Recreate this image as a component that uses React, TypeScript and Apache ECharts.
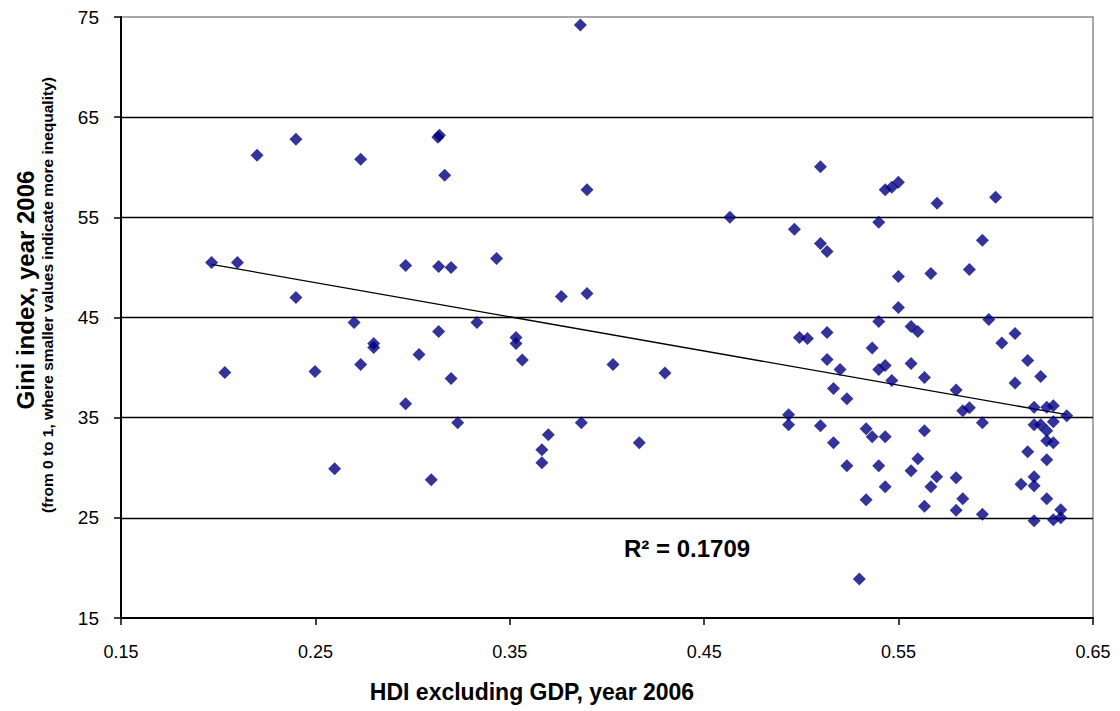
import React, { useEffect, useRef } from "react";
import * as echarts from "echarts";

// HDI excluding GDP (x) and Gini index (y)
const hdi: number[] = [
  0.1966, 0.2099, 0.2034, 0.22, 0.24, 0.24, 0.2498, 0.2599, 0.2699, 0.2733,
  0.2733, 0.28, 0.28, 0.2964, 0.2964, 0.3033, 0.3096, 0.313, 0.3138, 0.3134,
  0.3134, 0.3165, 0.3198, 0.3198, 0.3232, 0.3331, 0.3432, 0.3532, 0.3532, 0.3564,
  0.3665, 0.3665, 0.3698, 0.3765, 0.3863, 0.3868, 0.3897, 0.3897, 0.4031, 0.4166,
  0.4298, 0.4632,
  0.4934, 0.4934, 0.4964, 0.499, 0.5031, 0.5098, 0.5098, 0.5098, 0.5132, 0.5132,
  0.5132, 0.5165, 0.5165, 0.5199, 0.5234, 0.5234, 0.5298, 0.5333, 0.5333, 0.5364,
  0.5364, 0.5398, 0.5398, 0.5398, 0.5398, 0.5431, 0.5431, 0.5431, 0.5431, 0.5465,
  0.5465, 0.5499, 0.5499, 0.5499, 0.5564, 0.5564, 0.5564, 0.5599, 0.5599, 0.5633,
  0.5633, 0.5633, 0.5666, 0.5666, 0.5698, 0.5696, 0.5796, 0.5796, 0.5796, 0.583,
  0.583, 0.5864, 0.5864, 0.5931, 0.5931, 0.5931, 0.5964, 0.5999, 0.6031, 0.6099,
  0.6099, 0.613, 0.6164, 0.6164, 0.6197, 0.6197, 0.6197, 0.6197, 0.6197, 0.6231,
  0.6231, 0.6262, 0.6262, 0.6262, 0.6262, 0.6262, 0.6296, 0.6296, 0.6296, 0.6296,
  0.6334, 0.6334, 0.6365,
];
const gini: number[] = [
  50.5, 50.5, 39.5, 61.2, 62.8, 47.0, 39.6, 29.9, 44.5, 60.8,
  40.3, 42.4, 42.0, 50.2, 36.4, 41.3, 28.8, 63.0, 63.2, 50.1,
  43.6, 59.2, 50.0, 38.9, 34.5, 44.5, 50.9, 43.0, 42.4, 40.75,
  31.8, 30.5, 33.3, 47.1, 74.2, 34.5, 57.75, 47.4, 40.3, 32.5,
  39.45, 55.0,
  35.3, 34.3, 53.8, 43.0, 42.9, 60.05, 52.4, 34.2, 51.6, 43.5,
  40.8, 37.9, 32.5, 39.8, 36.9, 30.2, 18.9, 33.9, 26.8, 41.95,
  33.1, 54.5, 44.6, 39.8, 30.2, 57.75, 40.2, 33.1, 28.1, 58.0,
  38.7, 58.5, 49.1, 46.0, 44.1, 40.4, 29.7, 43.6, 30.9, 39.0,
  33.7, 26.15, 49.4, 28.1, 56.4, 29.1, 37.75, 29.0, 25.75, 35.7,
  26.9, 49.8, 36.0, 52.7, 34.5, 25.35, 44.8, 57.0, 42.45, 43.4,
  38.45, 28.35, 40.7, 31.6, 36.05, 34.3, 29.1, 28.2, 24.7, 39.1,
  34.3, 36.05, 33.7, 32.7, 30.8, 26.9, 36.2, 34.6, 32.5, 24.8,
  25.8, 25.0, 35.2,
];

// Linear trend line endpoints
const trendX: number[] = [0.1966, 0.6365];
const trendY: number[] = [50.3, 35.3];

// Axis ranges
const xMin = 0.15;
const xMax = 0.65;
const xStep = 0.1;
const yMin = 15;
const yMax = 75;
const yStep = 10;

const rSquaredLabel = "R\u00B2 = 0.1709";
const xTitle = "HDI excluding GDP, year 2006";
const yTitle = "Gini index, year 2006";
const ySubtitle = "(from 0 to 1, where smaller values indicate more inequality)";

const FONT = "'Liberation Sans', Arial, Helvetica, sans-serif";
const NARROW = "'Liberation Sans Narrow', 'Arial Narrow', 'Liberation Sans', Arial, sans-serif";

export default function App() {
  const ref = useRef<HTMLDivElement>(null);

  useEffect(() => {
    if (!ref.current) return;
    const chart = echarts.init(ref.current, undefined, { renderer: "svg" });

    const points = hdi.map((x, i) => [x - xMin, gini[i] - yMin]);
    const trend = trendX.map((x, i) => [x - xMin, trendY[i] - yMin]);

    chart.setOption({
      animation: false,
      backgroundColor: "#ffffff",
      grid: {
        left: 121,
        top: 17,
        width: 972,
        height: 601,
        show: true,
        borderColor: "#8c8c8c",
        borderWidth: 1.5,
        backgroundColor: "transparent",
      },
      xAxis: {
        type: "value",
        min: 0,
        max: xMax - xMin,
        interval: xStep,
        axisLine: { show: true, onZero: false, lineStyle: { color: "#000", width: 2 } },
        axisTick: { show: true, inside: false, length: 7, lineStyle: { color: "#000", width: 1.5 } },
        splitLine: { show: false },
        axisLabel: {
          color: "#000",
          fontSize: 18,
          fontFamily: FONT,
          margin: 25,
          formatter: (v: number) => (v + xMin).toFixed(2),
        },
      },
      yAxis: {
        type: "value",
        min: 0,
        max: yMax - yMin,
        interval: yStep,
        axisLine: { show: true, onZero: false, lineStyle: { color: "#000", width: 2 } },
        axisTick: { show: true, inside: false, length: 7, lineStyle: { color: "#000", width: 1.5 } },
        splitLine: {
          show: true,
          showMinLine: false,
          showMaxLine: false,
          lineStyle: { color: "#000", width: 1.4 },
        },
        axisLabel: {
          color: "#000",
          fontSize: 19,
          fontFamily: FONT,
          margin: 22,
          formatter: (v: number) => String(Math.round(v + yMin)),
        },
      },
      series: [
        {
          type: "line",
          data: trend,
          showSymbol: false,
          symbol: "none",
          lineStyle: { color: "#000", width: 1.3 },
          z: 3,
          silent: true,
        },
        {
          type: "scatter",
          data: points,
          symbol: "diamond",
          symbolSize: 13,
          itemStyle: { color: "#000080" },
          z: 4,
        },
      ],
      graphic: [
        {
          type: "text",
          x: 624,
          y: 548,
          style: {
            text: rSquaredLabel,
            fill: "#000",
            font: `bold 24px ${FONT}`,
            textAlign: "left",
            textVerticalAlign: "middle",
          },
        },
        {
          type: "text",
          x: 532,
          y: 692,
          style: {
            text: xTitle,
            fill: "#000",
            font: `bold 23px ${FONT}`,
            textAlign: "center",
            textVerticalAlign: "middle",
          },
        },
        {
          type: "text",
          x: 25,
          y: 290,
          rotation: Math.PI / 2,
          style: {
            text: yTitle,
            fill: "#000",
            font: `bold 24px ${NARROW}`,
            textAlign: "center",
            textVerticalAlign: "middle",
          },
        },
        {
          type: "text",
          x: 47,
          y: 295,
          rotation: Math.PI / 2,
          style: {
            text: ySubtitle,
            fill: "#000",
            font: `bold 15.5px ${NARROW}`,
            textAlign: "center",
            textVerticalAlign: "middle",
          },
        },
      ],
    });

    return () => {
      chart.dispose();
    };
  }, []);

  return (
    <div
      ref={ref}
      style={{ position: "absolute", left: 0, top: 0, width: 1120, height: 711, background: "#fff" }}
    />
  );
}
